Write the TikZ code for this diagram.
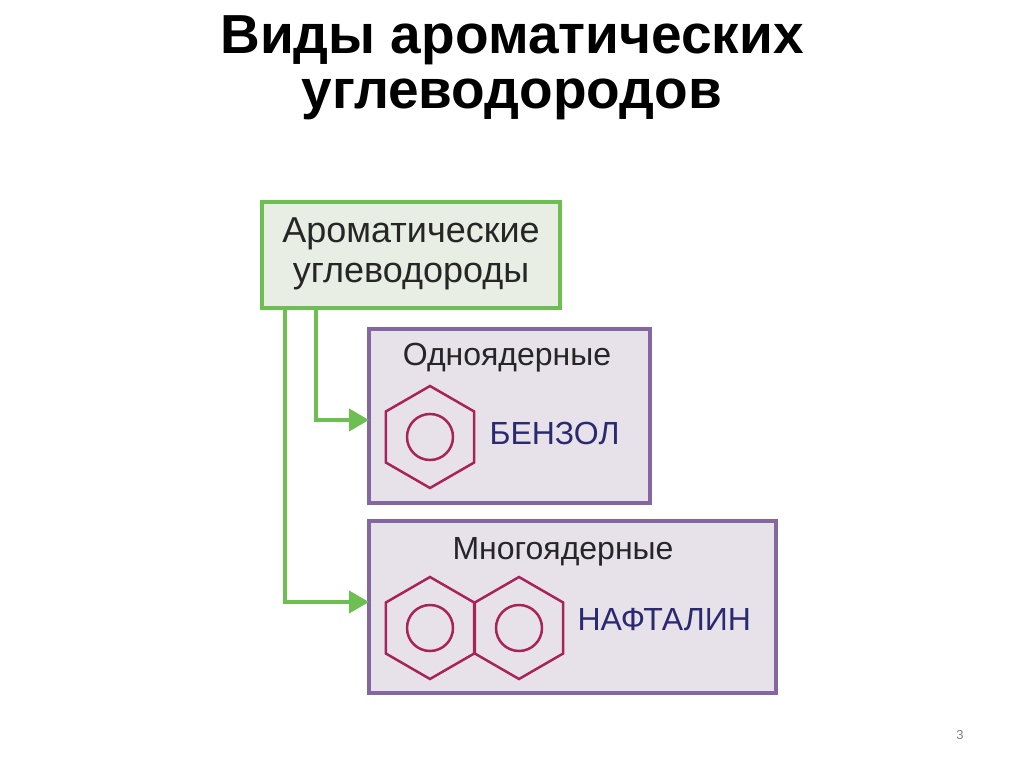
\documentclass[tikz,border=0pt]{standalone}
\usepackage{fontspec}
\setmainfont{Liberation Sans}
\usetikzlibrary{arrows.meta}
\definecolor{gfill}{HTML}{E8EEE4}
\definecolor{gline}{HTML}{6CBF50}
\definecolor{pfill}{HTML}{E7E2EA}
\definecolor{pline}{HTML}{8466A0}
\definecolor{ring}{HTML}{A82458}
\definecolor{navy}{HTML}{2B2A70}
\tikzset{
 gbox/.style={draw=gline,fill=gfill,line width=4pt},
 pbox/.style={draw=pline,fill=pfill,line width=4pt},
 conn/.style={draw=gline,line width=4pt,-{Triangle[length=20pt,width=22pt]}},
 hex/.style={draw=ring,line width=2.5pt},
 lbl/.style={font=\fontsize{32}{38}\selectfont,text=black!85},
 nm/.style={font=\fontsize{32}{38}\selectfont,text=navy,anchor=west}
}
\begin{document}
\begin{tikzpicture}[x=1pt,y=-1pt]
\useasboundingbox (0,0) rectangle (1024,767);
\node[font=\bfseries\fontsize{55}{55}\selectfont,align=center] (title) at (512,68) {Виды ароматических\\углеводородов};
\draw[gbox] (262,202) rectangle (560,308);
\node[font=\fontsize{36}{40}\selectfont,align=center,text=black!85] (top) at (411,254) {Ароматические\\углеводороды};
\draw[pbox] (369,329) rectangle (650,503);
\draw[pbox] (369,521) rectangle (776,693);
\coordinate (b1) at (369,420);
\coordinate (b2) at (369,602);
\coordinate (s1) at (316,308);
\coordinate (s2) at (285,308);
\draw[conn] (s1) |- (b1);
\draw[conn] (s2) |- (b2);
\node[lbl] (mono) at (507,358) {Одноядерные};
\node[lbl] (poly) at (563,552) {Многоядерные};
\foreach \c in {{(430,437)},{(430,628)},{(519,628)}}{
  \draw[hex] \c ++(90:51) -- ++(210:51) -- ++(270:51) -- ++(330:51) -- ++(30:51) -- ++(90:51) -- cycle;
  \draw[hex] \c circle (23);
}
\node[nm] (benz) at (486,433) {БЕНЗОЛ};
\node[nm] (naph) at (574,620) {НАФТАЛИН};
\node[text=gray,font=\fontsize{13}{15}\selectfont] (pg) at (960,735) {3};
\end{tikzpicture}
\end{document}
